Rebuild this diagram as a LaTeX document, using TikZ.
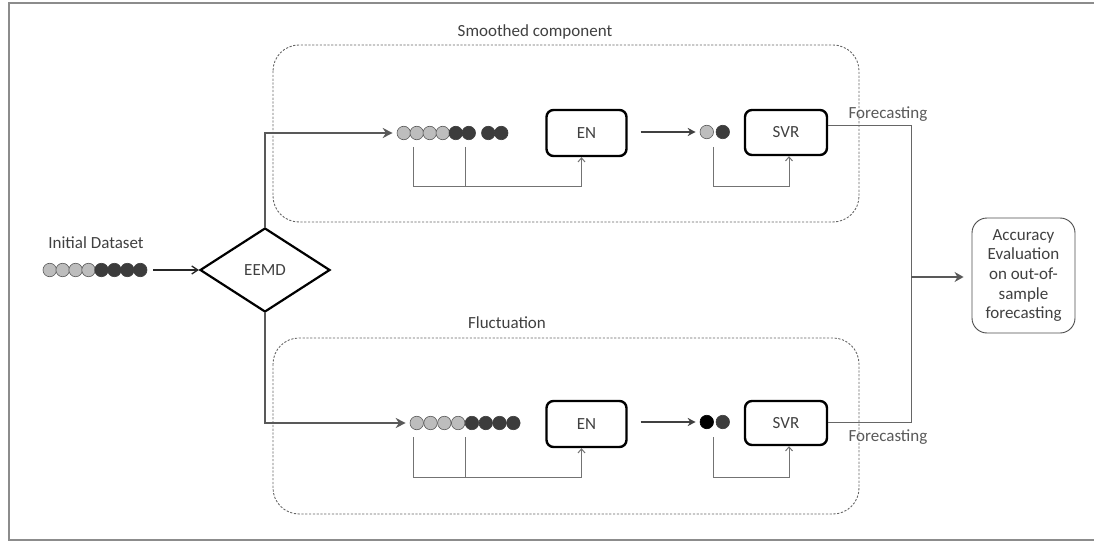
\documentclass[tikz,border=0pt]{standalone}
\usepackage{fontspec}
\setmainfont{Carlito}
\usetikzlibrary{shapes.geometric,arrows.meta}
\definecolor{txt}{HTML}{404040}
\definecolor{lightc}{HTML}{BDBDBD}
\definecolor{darkc}{HTML}{3C3C3C}
\tikzset{
  frame/.style={draw=black!45, line width=2pt},
  lbl/.style={inner sep=0pt, text=txt},
  lc/.style={circle, draw=black!65, fill=lightc, minimum size=13.5pt, inner sep=0pt, line width=0.6pt},
  dc/.style={circle, draw=darkc, fill=darkc, minimum size=13.5pt, inner sep=0pt, line width=0.6pt},
  bc/.style={circle, draw=black, fill=black, minimum size=13.5pt, inner sep=0pt, line width=0.6pt},
  procbox/.style={draw=black, line width=2.4pt, rounded corners=7pt, minimum width=80pt, minimum height=46pt, inner sep=0pt, text=txt},
  dashbox/.style={draw=black!60, line width=0.9pt, dash pattern=on 2.2pt off 1.6pt, rounded corners=26pt},
  arr/.style={draw=black!85, line width=1.3pt, -{Straight Barb[length=6pt,width=8pt]}},
  garr/.style={draw=black!65, line width=1.8pt, -{Stealth[length=10pt,width=10pt]}},
  tarr/.style={draw=black!75, line width=2pt, -{Stealth[length=8pt,width=8pt]}},
  fb/.style={draw=black!55, line width=1pt},
  fbarr/.style={draw=black!55, line width=1pt, -{Straight Barb[length=4pt,width=7pt]}},
  outl/.style={draw=black!60, line width=1pt},
  bigarr/.style={draw=black!65, line width=2.6pt, -{Stealth[length=9pt,width=10pt]}}
}
\begin{document}
\begin{tikzpicture}[x=1pt,y=-1pt, font=\fontsize{17}{19.7}\selectfont]
\useasboundingbox (0,0) rectangle (1094,545);
\draw[frame] (1096,3) -- (9,3) -- (9,540) -- (1096,540);

% dashed groups
\draw[dashbox] (273,45) rectangle (859,222);
\draw[dashbox] (273,338) rectangle (859,514);
\node[lbl] (smlbl) at (535,32) {Smoothed component};
\node[lbl] (fllbl) at (507,323) {Fluctuation};

% initial dataset
\node[lbl] (initlbl) at (96,243) {Initial Dataset};
\foreach \i [evaluate=\i as \x using 49.75+12.93*\i] in {0,...,3} {\node[lc] (ia\i) at (\x,270) {};}
\foreach \i [evaluate=\i as \x using 49.75+12.93*\i] in {4,...,7} {\node[dc] (ia\i) at (\x,270) {};}

% EEMD
\node[diamond, draw=black, line width=2.2pt, minimum width=130pt, minimum height=84pt, aspect=1.55, inner sep=0pt, text=txt] (eemd) at (265,270) {EEMD};
\draw[arr] ([xshift=6pt]ia7.east) -- (eemd.west);

% top branch
\foreach \i [evaluate=\i as \x using 403.75+13*\i] in {0,...,3} {\node[lc] (sa\i) at (\x,133) {};}
\foreach \i [evaluate=\i as \x using 403.75+13*\i] in {4,5} {\node[dc] (sa\i) at (\x,133) {};}
\node[dc] (sa6) at (488.25,133) {};
\node[dc] (sa7) at (501.25,133) {};
\draw[garr] (eemd.north) |- ([xshift=-4pt]sa0.west);

\node[procbox] (en1) at (586.5,133) {EN};
\node[lc] (sp0) at (706.75,132) {};
\node[dc] (sp1) at (722.75,132) {};
\draw[tarr] ([xshift=13pt]en1.east |- sp0) -- ([xshift=-4pt]sp0.west);
\node[procbox, minimum width=82pt, minimum height=45pt] (svr1) at (786,132.5) {SVR};

\coordinate (fa1) at (413,147);
\coordinate (fa2) at (465,147);
\coordinate (fa3) at (465,187);
\draw[fbarr] (fa1) -- (413,187) -| ([xshift=-5pt]en1.south);
\draw[fb] (fa2) -- (fa3);
\coordinate (fb1) at (713,147);
\draw[fbarr] (fb1) -- (713,187) -| ([xshift=3pt]svr1.south);

% bottom branch
\foreach \i [evaluate=\i as \x using 416.75+13.8*\i] in {0,...,3} {\node[lc] (ba\i) at (\x,423) {};}
\foreach \i [evaluate=\i as \x using 416.75+13.8*\i] in {4,...,7} {\node[dc] (ba\i) at (\x,423) {};}
\draw[garr] (eemd.south) |- ([xshift=-4pt]ba0.west);

\node[procbox] (en2) at (586.5,424) {EN};
\node[bc] (bp0) at (706.75,422) {};
\node[dc] (bp1) at (722.75,422) {};
\draw[tarr] ([xshift=13pt]en2.east |- bp0) -- ([xshift=-4pt]bp0.west);
\node[procbox, minimum width=82pt, minimum height=44pt] (svr2) at (786,423) {SVR};

\coordinate (fc1) at (413,437);
\coordinate (fc2) at (465,437);
\coordinate (fc3) at (465,477);
\draw[fbarr] (fc1) -- (413,477) -| ([xshift=-5pt]en2.south);
\draw[fb] (fc2) -- (fc3);
\coordinate (fd1) at (713,437);
\draw[fbarr] (fd1) -- (713,477) -| ([xshift=3pt]svr2.south);

% outputs
\coordinate (jt) at (911,126);
\coordinate (jb) at (911,422);
\coordinate (jm) at (911,277);
\draw[outl] (svr1.east |- jt) -- (jt) -- (jb) -- (svr2.east |- jb);
\node[lbl, text=black!65] (fc1lbl) at (888,114) {Forecasting};
\node[lbl, text=black!65] (fc2lbl) at (888,437) {Forecasting};

\node[draw=black!70, line width=0.9pt, rounded corners=15pt, minimum width=103pt, minimum height=115pt, align=center, inner sep=0pt, text=txt] (acc) at (1023.5,275.5) {Accuracy\\Evaluation\\on out-of-\\sample\\forecasting};
\draw[bigarr] (jm) -- ([xshift=-8pt]acc.west |- jm);
\end{tikzpicture}
\end{document}
